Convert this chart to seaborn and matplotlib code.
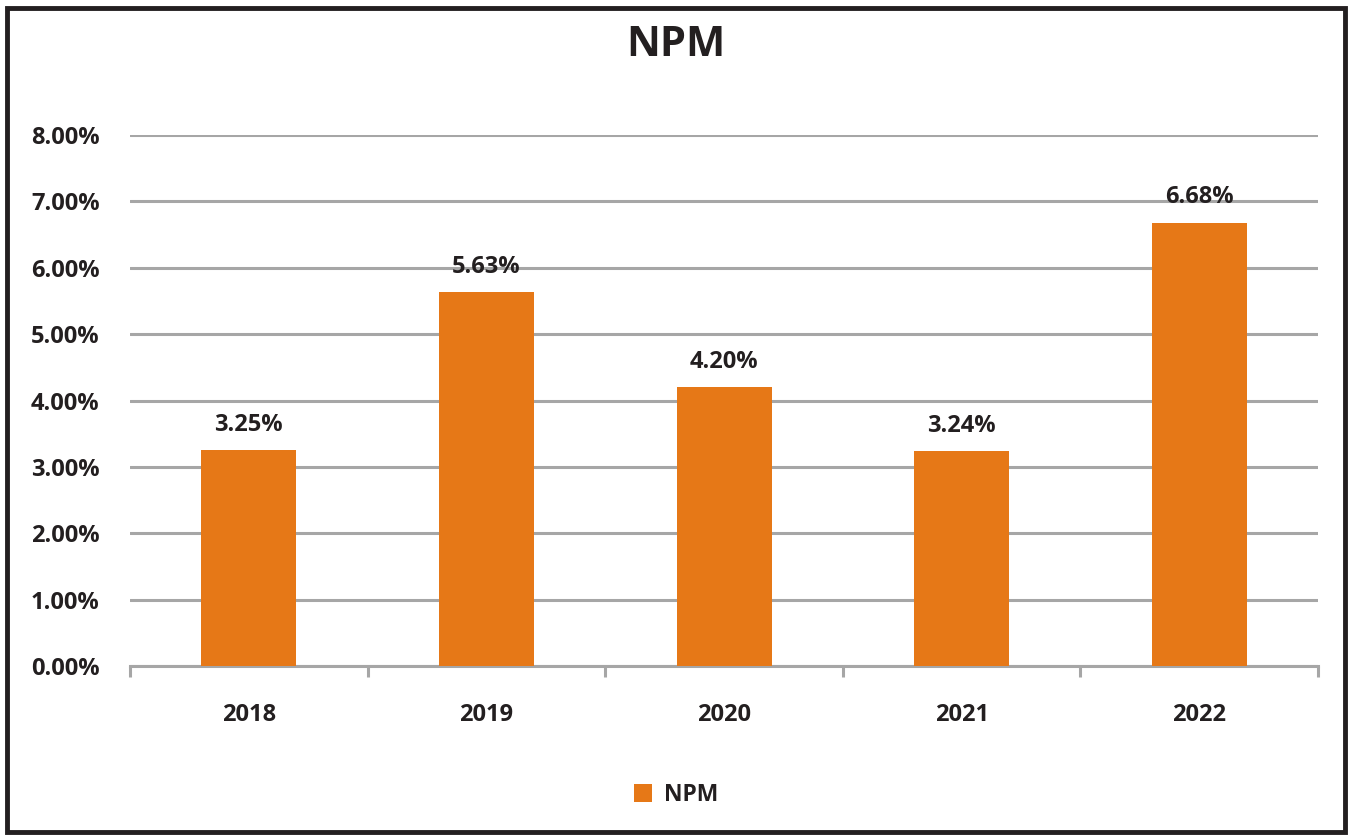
import matplotlib
matplotlib.use("Agg")
import matplotlib.pyplot as plt
import seaborn as sns
import pandas as pd
import numpy as np
from matplotlib.patches import Rectangle

# ---------------------------------------------------------------------------
years = ["2018", "2019", "2020", "2021", "2022"]
npm = [3.25, 5.63, 4.20, 3.24, 6.68]
y_ticks = [0, 1, 2, 3, 4, 5, 6, 7, 8]

bar_color = "#E67817"
grid_color = "#A6A6A6"
text_color = "#231F20"
# ---------------------------------------------------------------------------

df = pd.DataFrame({"year": years, "npm": npm})

sns.set_style("white")
plt.rcParams["font.family"] = ["Open Sans", "DejaVu Sans"]

fig = plt.figure(figsize=(13.52, 8.35), dpi=100)
ax = fig.add_axes([0.0962, 0.2024, 0.8787, 0.6359])

sns.barplot(x="year", y="npm", data=df, color=bar_color, width=0.4,
            saturation=1, label="NPM", ax=ax, zorder=3, linewidth=0)

# valores encima de cada barra
for i, v in enumerate(npm):
    ax.text(i, v + 0.2, f"{v:.2f}%", ha="center", va="bottom",
            fontsize=17, fontweight="bold", color=text_color)

ax.set_ylim(0, 8)
ax.set_xlim(-0.5, len(years) - 0.5)
ax.set_yticks(y_ticks)
ax.set_yticklabels([f"{t:.2f}%" for t in y_ticks])
ax.yaxis.grid(True, color=grid_color, lw=2.2, zorder=0)
ax.set_axisbelow(True)

for s in ["top", "right", "left"]:
    ax.spines[s].set_visible(False)
ax.spines["bottom"].set_color(grid_color)
ax.spines["bottom"].set_linewidth(2.2)

ax.tick_params(axis="y", length=0, pad=22, labelsize=17, labelcolor=text_color)
ax.tick_params(axis="x", which="major", bottom=True, length=0, pad=27,
               labelsize=17, labelcolor=text_color)
ax.set_xticks(np.arange(-0.5, len(years), 1), minor=True)
ax.tick_params(axis="x", which="minor", bottom=True, length=8, width=2.2,
               color=grid_color, direction="out")
for lab in ax.get_xticklabels() + ax.get_yticklabels():
    lab.set_fontweight("bold")

ax.set_xlabel("")
ax.set_ylabel("")

if ax.get_legend() is not None:
    ax.get_legend().remove()
handles, labels = ax.get_legend_handles_labels()
fig.legend(handles, labels, loc="center", bbox_to_anchor=(0.5, 0.048),
           frameon=False, handlelength=0.8, handleheight=0.8,
           handletextpad=0.5, prop={"weight": "bold", "size": 16.5},
           labelcolor=text_color)

fig.text(0.5, 0.945, "NPM", ha="center", va="center", fontsize=30,
         fontweight="bold", color=text_color)

# marco negro alrededor
fig.patches.append(Rectangle((0.0052, 0.003), 0.9896, 0.987, transform=fig.transFigure,
                             fill=False, edgecolor=text_color, lw=3.5))

fig.savefig("out.png", dpi=100, facecolor="white")
